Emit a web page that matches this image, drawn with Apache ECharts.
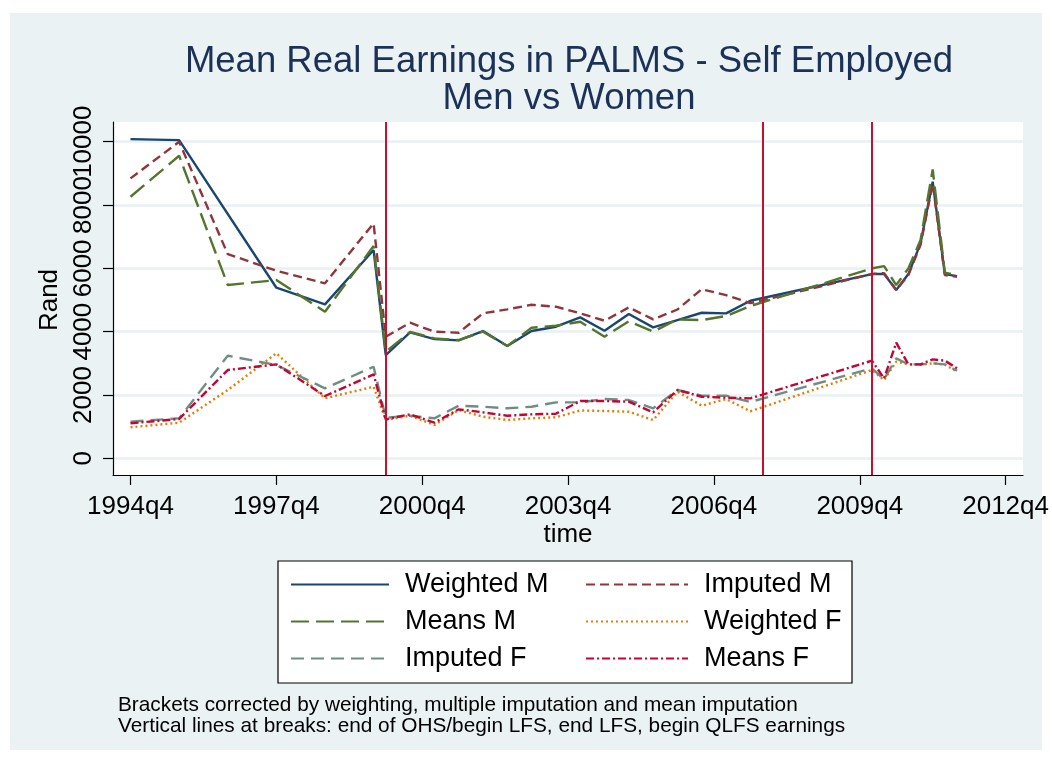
<!DOCTYPE html>
<html>
<head>
<meta charset="utf-8">
<script src="https://cdn.jsdelivr.net/npm/echarts@6/dist/echarts.min.js"></script>
<style>
    html, body { margin: 0; padding: 0; background: #fff; }
    #chart { width: 1052px; height: 760px; }
</style>
</head>
<body>
<div id="chart"></div>
<script>
// survey periods: OHS (annual), LFS (biannual), QLFS (quarterly)
var periods = [
    '1994q4', '1995q4', '1996q4', '1997q4', '1998q4', '1999q4',
    '2000q1', '2000q3', '2001q1', '2001q3', '2002q1', '2002q3', '2003q1', '2003q3',
    '2004q1', '2004q3', '2005q1', '2005q3', '2006q1', '2006q3', '2007q1', '2007q3',
    '2010q1', '2010q2', '2010q3', '2010q4', '2011q1', '2011q2', '2011q3', '2011q4'
];
var weightedM = [10082, 10050, null, 5388, 4862, 6577,
    3262, 3979, 3767, 3726, 4020, 3546, 4020, 4156, 4452, 4030, 4556, 4136, 4367, 4598, 4578, 4977,
    5819, 5819, 5314, 5819, 6788, 8735, 5819, 5756];
var imputedM = [8841, 9997, 6451, 5924, 5526, 7420,
    3840, 4283, 4000, 3967, 4578, 4705, 4850, 4788, 4580, 4345, 4768, 4389, 4700, 5340, 5156, 4900,
    5819, 5850, 5314, 5788, 6740, 8683, 5788, 5735];
var meansM = [8260, 9555, 5472, 5630, 4629, 6704,
    3366, 3990, 3789, 3735, 4000, 3546, 4125, 4188, 4314, 3840, 4330, 4000, 4389, 4367, 4493, 4809,
    5999, 6072, 5472, 5999, 6893, 9125, 5861, 5788];
var weightedF = [979, 1124, 2157, 3316, 1895, 2261,
    1209, 1345, 1051, 1525, 1313, 1209, 1263, 1295, 1510, 1494, 1471, 1209, 2103, 1661, 1872, 1485,
    2788, 2472, 3051, 2968, 2956, 3000, 2956, 2735];
var imputedF = [1156, 1263, 3240, 2946, 2210, 2892,
    1282, 1345, 1263, 1661, 1629, 1579, 1629, 1768, 1768, 1872, 1841, 1579, 2157, 1977, 1977, 1780,
    2842, 2494, 3158, 2968, 2968, 3000, 2968, 2766];
var meansF = [1105, 1241, 2788, 2968, 1967, 2652,
    1231, 1389, 1124, 1547, 1452, 1345, 1389, 1408, 1809, 1809, 1787, 1452, 2157, 1945, 1914, 1894,
    3083, 2526, 3651, 2968, 2968, 3126, 3083, 2842];

var yTicks = [0, 2000, 4000, 6000, 8000, 10000];
var xTicks = ['1994q4', '1997q4', '2000q4', '2003q4', '2006q4', '2009q4', '2012q4'];
var breaks = ['2000q1', '2007q4', '2010q1'];

var FONT = '"Liberation Sans", Arial, Helvetica, sans-serif';
var XMIN = 7977.56, XMAX = 8052.43;

function qnum(s) {
    return (+s.slice(0, 4)) * 4 + (+s.slice(5)) - 1;
}
function qlabel(v) {
    v = Math.round(v);
    return Math.floor(v / 4) + 'q' + (v % 4 + 1);
}

function mkSeries(name, vals, color, dash) {
    return {
        name: name,
        type: 'line',
        xAxisIndex: 1,
        yAxisIndex: 1,
        symbol: 'none',
        showSymbol: false,
        connectNulls: true,
        clip: false,
        silent: true,
        z: 3,
        data: periods.map(function (p, i) { return [qnum(p), vals[i]]; }),
        lineStyle: { color: color, width: 2.4, type: dash, cap: 'butt' },
        itemStyle: { color: color }
    };
}

var series = [
    mkSeries('Weighted M', weightedM, '#1a476f', 'solid'),
    mkSeries('Imputed M', imputedM, '#90353b', [9, 5]),
    mkSeries('Means M', meansM, '#55752f', [18, 7]),
    mkSeries('Weighted F', weightedF, '#e37e00', [2, 3]),
    mkSeries('Imputed F', imputedF, '#6e8e84', [13, 7]),
    mkSeries('Means F', meansF, '#c10534', [8, 3, 2, 3])
];
// vertical break lines across the full plot region
series.push({
    name: 'breaks',
    type: 'line',
    xAxisIndex: 0,
    yAxisIndex: 0,
    data: [],
    silent: true,
    z: 5,
    markLine: {
        silent: true,
        symbol: ['none', 'none'],
        label: { show: false },
        lineStyle: { color: '#c8102e', width: 2, type: 'solid' },
        emphasis: { disabled: true },
        data: breaks.map(function (b) { return { xAxis: qnum(b) }; })
    }
});

var colX = [290, 585], colW = [98, 102], rowY = [585, 622, 659];
var legends = series.slice(0, 6).map(function (s, i) {
    var c = i % 2;
    return {
        data: [s.name],
        left: colX[c],
        top: rowY[Math.floor(i / 2)] - 14,
        padding: 0,
        itemWidth: colW[c],
        itemHeight: 14,
        selectedMode: false,
        itemStyle: { opacity: 0 },
        textStyle: { fontFamily: FONT, fontSize: 27, lineHeight: 27, color: '#000', padding: [0, 0, 0, 11] }
    };
});

// the labels overlap in the original, so alternate ones go on a twin axis
// (ECharts would otherwise drop the overlapping neighbour of the max label)
var yLabelStyle = {
    formatter: function (v) { return String(v); },
    showMaxLabel: true,
    showMinLabel: true,
    hideOverlap: false,
    rotate: 90, fontFamily: FONT, fontSize: 26, color: '#000', margin: 16
};

var chart = echarts.init(document.getElementById('chart'), null, { renderer: 'canvas' });
chart.setOption({
    animation: false,
    backgroundColor: '#fff',
    textStyle: { fontFamily: FONT },
    title: [{
        text: 'Mean Real Earnings in PALMS - Self Employed\nMen vs Women',
        left: 569,
        top: 43,
        padding: 0,
        textAlign: 'center',
        textStyle: { fontFamily: FONT, fontSize: 36.5, lineHeight: 37, fontWeight: 'normal', color: '#1c3158' }
    }, {
        text: 'Brackets corrected by weighting, multiple imputation and mean imputation\n' +
              'Vertical lines at breaks: end of OHS/begin LFS, end LFS, begin QLFS earnings',
        left: 118,
        top: 695,
        padding: 0,
        textStyle: { fontFamily: FONT, fontSize: 20.8, lineHeight: 21, fontWeight: 'normal', color: '#000' }
    }],
    graphic: [{
        type: 'rect',
        silent: true,
        z: -10,
        shape: { x: 10, y: 13, width: 1032, height: 737 },
        style: { fill: '#eaf2f3' }
    }, {
        type: 'rect',
        silent: true,
        z: 1,
        shape: { x: 278, y: 561, width: 574, height: 122 },
        style: { fill: '#fff', stroke: '#000', lineWidth: 1.2 }
    }],
    legend: legends,
    grid: [
        { left: 113, right: 29, top: 122, bottom: 285, show: true, backgroundColor: '#fff', borderWidth: 0 },
        { left: 113, right: 29, top: 141.7, bottom: 301.7, show: false }
    ],
    xAxis: [{
        gridIndex: 0,
        type: 'value',
        min: XMIN,
        max: XMAX,
        name: 'time',
        nameLocation: 'middle',
        nameGap: 47,
        nameTextStyle: { fontFamily: FONT, fontSize: 26, color: '#000' },
        axisLine: { show: true, onZero: false, lineStyle: { color: '#000', width: 1.2 } },
        axisTick: { show: true, length: 10, customValues: xTicks.map(qnum), lineStyle: { color: '#000', width: 1.2 } },
        axisLabel: { customValues: xTicks.map(qnum), formatter: qlabel, fontFamily: FONT, fontSize: 26, color: '#000', margin: 19 },
        splitLine: { show: false }
    }, {
        gridIndex: 1,
        type: 'value',
        min: XMIN,
        max: XMAX,
        show: false
    }],
    yAxis: [{
        gridIndex: 0,
        type: 'value',
        min: 0,
        max: 1,
        axisLine: { show: true, onZero: false, lineStyle: { color: '#000', width: 1.2 } },
        axisTick: { show: false },
        axisLabel: { show: false },
        splitLine: { show: false }
    }, {
        gridIndex: 1,
        type: 'value',
        min: 0,
        max: 10000,
        name: 'Rand',
        nameLocation: 'middle',
        nameGap: 44,
        nameTextStyle: { fontFamily: FONT, fontSize: 26, color: '#000' },
        axisLine: { show: false },
        axisTick: { show: true, length: 10, customValues: yTicks, lineStyle: { color: '#000', width: 1.2 } },
        axisLabel: Object.assign({ customValues: yTicks.filter(function (v, i) { return i % 2 === 0; }) }, yLabelStyle),
        splitLine: { show: true, lineStyle: { color: '#e8f0f2', width: 2.5 } }
    }, {
        gridIndex: 1,
        type: 'value',
        position: 'left',
        offset: 0,
        min: 0,
        max: 10000,
        axisLine: { show: false },
        axisTick: { show: false },
        axisLabel: Object.assign({ customValues: yTicks.filter(function (v, i) { return i % 2 === 1; }) }, yLabelStyle),
        splitLine: { show: false }
    }],
    series: series
});
</script>
</body>
</html>
